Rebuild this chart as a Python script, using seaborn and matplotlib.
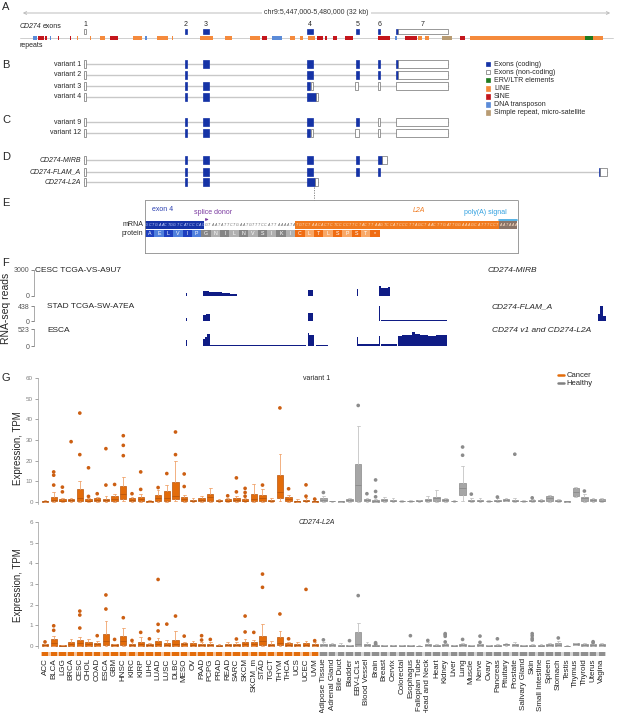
import numpy as np
import pandas as pd
import matplotlib
matplotlib.use('Agg')
import matplotlib.pyplot as plt
from matplotlib.patches import Rectangle
from matplotlib.lines import Line2D
import seaborn as sns

sns.set_theme(style='white')
plt.rcParams['font.family'] = ['Liberation Sans', 'DejaVu Sans']

# ---------------- data ----------------
# genome window chr9:5,447,000-5,480,000, positions in kb from window start
win_start, win_end = 0.0, 33.0
chr_label = 'chr9:5,447,000-5,480,000 (32 kb)'

# exons of variant 1 (start kb, end kb, coding)
v1_exons = [(3.56, 3.70, 0), (9.18, 9.29, 1), (10.16, 10.49, 1), (15.97, 16.33, 1),
            (18.70, 18.89, 1), (19.92, 20.06, 1), (20.95, 21.03, 1), (21.03, 23.82, 0)]
v2_exons = [(3.56, 3.70, 0), (9.18, 9.29, 1), (15.97, 16.33, 1),
            (18.70, 18.89, 1), (19.92, 20.06, 1), (20.95, 21.03, 1), (21.03, 23.82, 0)]
v3_exons = [(3.56, 3.70, 0), (9.18, 9.29, 1), (10.16, 10.49, 1), (15.97, 16.12, 1), (16.22, 16.33, 0),
            (18.64, 18.81, 0), (19.92, 20.06, 0), (20.95, 23.82, 0)]
v4_exons = [(3.56, 3.70, 0), (9.18, 9.29, 1), (10.16, 10.49, 1), (15.97, 16.47, 1), (16.47, 16.58, 0)]
v9_exons = [(3.56, 3.70, 0), (9.18, 9.29, 1), (10.16, 10.49, 1), (15.97, 16.33, 1),
            (18.70, 18.84, 1), (19.92, 20.06, 0), (20.95, 23.82, 0)]
v12_exons = [(3.56, 3.70, 0), (9.18, 9.29, 1), (10.16, 10.49, 1), (15.97, 16.12, 1), (16.22, 16.33, 0),
             (18.64, 18.89, 0), (19.92, 20.06, 0), (20.95, 23.82, 0)]
mirb_exons = [(3.56, 3.70, 0), (9.18, 9.29, 1), (10.16, 10.49, 1), (15.97, 16.33, 1),
              (18.70, 18.89, 1), (19.92, 20.14, 1), (20.14, 20.42, 0)]
flam_exons = [(3.56, 3.70, 0), (9.18, 9.29, 1), (10.16, 10.49, 1), (15.97, 16.33, 1),
              (18.70, 18.89, 1), (19.92, 20.06, 1), (32.22, 32.30, 1), (32.30, 32.67, 0)]
l2a_exons = [(3.56, 3.70, 0), (9.18, 9.29, 1), (10.16, 10.49, 1), (15.97, 16.41, 1), (16.41, 16.58, 0)]

exon_numbers = ['1', '2', '3', '4', '5', '6', '7']
exon_number_kb = [3.63, 9.24, 10.32, 16.15, 18.8, 19.99, 22.38]

tx_names = ['variant 1', 'variant 2', 'variant 3', 'variant 4', 'variant 9', 'variant 12',
            'CD274-MIRB', 'CD274-FLAM_A', 'CD274-L2A']
tx_exons = [v1_exons, v2_exons, v3_exons, v4_exons, v9_exons, v12_exons,
            mirb_exons, flam_exons, l2a_exons]

# repeats (start kb, end kb, class)
rep_start = [0.72, 1.00, 1.39, 1.67, 2.11, 2.78, 3.17, 3.90, 4.45, 5.01, 6.29, 6.96, 7.62, 8.46,
             10.02, 11.41, 12.80, 13.47, 14.02, 15.03, 15.58, 16.03, 16.53, 16.97, 17.42, 18.09,
             19.92, 20.87, 21.42, 22.15, 22.54, 23.48, 24.49, 25.04, 31.44, 31.89]
rep_end = [0.95, 1.34, 1.50, 1.75, 2.17, 2.84, 3.23, 3.95, 4.73, 5.45, 6.79, 7.07, 8.24, 8.51,
           10.74, 11.80, 13.36, 13.74, 14.58, 15.30, 15.75, 16.42, 16.86, 17.08, 17.64, 18.53,
           20.59, 20.98, 22.09, 22.37, 22.76, 24.04, 24.76, 31.44, 31.89, 32.44]
rep_class = ['DNA', 'SINE', 'SINE', 'DNA', 'SINE', 'SINE', 'LINE', 'LINE', 'LINE', 'SINE', 'LINE', 'DNA',
             'LINE', 'LINE', 'LINE', 'LINE', 'LINE', 'SINE', 'DNA', 'LINE', 'LINE', 'LINE', 'SINE', 'SINE',
             'SINE', 'SINE', 'SINE', 'DNA', 'SINE', 'LINE', 'LINE', 'Simple', 'SINE', 'LINE', 'ERV', 'LINE']

legend_labels = ['Exons (coding)', 'Exons (non-coding)', 'ERV/LTR elements', 'LINE', 'SINE',
                 'DNA transposon', 'Simple repeat, micro-satellite']

# panel E
exon_seq = 'GCTGAACTGGTCATCCCAG'
intron_seq = 'GTAATATTCTGAATGTTTCCATTAAAATA'
l2a_seq = 'TGTCTAACACTCTCCCCTTCTACTTAAGTCCATCCCTTAGCTAACTTGATTGGAAAGCATTTCCTAATAAA'
polya_len = 6
protein = ['A', 'E', 'L', 'V', 'I', 'P', 'G', 'N', 'I', 'L', 'N', 'V', 'S', 'I', 'K', 'I',
           'C', 'L', 'T', 'L', 'S', 'P', 'S', 'T', '*']
protein_part = ['exon'] * 6 + ['intron'] * 10 + ['l2a'] * 9

# panel F coverage blocks (start kb, end kb, reads)
cesc_start = [3.59, 9.21, 10.18, 10.52, 10.85, 11.24, 11.69, 16.00, 18.73, 19.98, 20.09, 20.48]
cesc_end = [3.64, 9.29, 10.52, 10.85, 11.24, 11.69, 12.08, 16.31, 18.81, 20.09, 20.48, 20.59]
cesc_reads = [120, 350, 580, 420, 460, 350, 230, 690, 800, 1150, 900, 1000]

stad_start = [3.59, 9.21, 10.18, 10.35, 16.00, 18.73, 19.98, 20.09, 21.15, 22.82, 32.16, 32.28, 32.45]
stad_end = [3.64, 9.29, 10.35, 10.55, 16.33, 18.78, 20.06, 21.15, 22.82, 23.76, 32.28, 32.45, 32.62]
stad_reads = [30, 80, 170, 210, 240, 400, 440, 25, 35, 30, 200, 430, 150]

esca_start = [3.59, 3.78, 9.21, 9.35, 10.18, 10.29, 10.41, 10.57, 16.00, 16.08, 16.25, 16.47, 18.73,
              18.81, 19.98, 20.09, 21.03, 21.26, 21.59, 21.81, 21.98, 22.26, 22.70, 23.15, 23.48]
esca_end = [3.64, 9.13, 9.29, 10.13, 10.29, 10.41, 10.55, 15.92, 16.08, 16.25, 16.36, 17.14, 18.81,
            19.98, 20.06, 20.98, 21.26, 21.59, 21.81, 21.98, 22.26, 22.70, 23.15, 23.48, 23.76]
esca_reads = [120, 12, 185, 15, 215, 280, 370, 25, 390, 350, 330, 20, 280,
              60, 310, 55, 300, 330, 350, 420, 360, 330, 320, 350, 330]

track_names = ['CESC TCGA-VS-A9U7', 'STAD TCGA-SW-A7EA', 'ESCA']
track_isoform = ['CD274-MIRB', 'CD274-FLAM_A', 'CD274 v1 and CD274-L2A']
track_max = [3000, 438, 523]

# panel G
cancer_types = ['ACC', 'BLCA', 'LGG', 'BRCA', 'CESC', 'CHOL', 'COAD', 'ESCA', 'GBM', 'HNSC', 'KIRC',
                'KIRP', 'LIHC', 'LUAD', 'LUSC', 'DLBC', 'MESO', 'OV', 'PAAD', 'PCPG', 'PRAD', 'READ',
                'SARC', 'SKCM', 'SKCM_m', 'STAD', 'TGCT', 'THYM', 'THCA', 'UCS', 'UCEC', 'UVM']
healthy_tissues = ['Adipose Tissue', 'Adrenal Gland', 'Bile Duct', 'Bladder', 'EBV-LCLs', 'Blood Vessel',
                   'Brain', 'Breast', 'Cervix', 'Colorectal', 'Esophagus', 'Fallopian Tube',
                   'Head and Neck', 'Heart', 'Kidney', 'Liver', 'Lung', 'Muscle', 'Nerve', 'Ovary',
                   'Pancreas', 'Pituitary', 'Prostate', 'Salivary Gland', 'Skin', 'Small Intestine',
                   'Spleen', 'Stomach', 'Testis', 'Thymus', 'Thyroid', 'Uterus', 'Vagina']

v1_q1 = [0.1, 0.3, 0.2, 0.3, 0.5, 0.3, 0.2, 0.3, 0.4, 1.1, 0.3, 0.3, 0.1, 0.6, 0.5, 1.1, 0.3, 0.3, 0.2, 0.5,
         0.2, 0.3, 0.3, 0.3, 0.4, 0.3, 0.2, 1.9, 0.4, 0.1, 0.2, 0.1,
         0.5, 0.2, 0.1, 0.3, 0.3, 0.3, 0.1, 0.3, 0.2, 0.2, 0.2, 0.3, 0.3, 0.3, 0.3, 0.2, 3.2, 0.2, 0.2,
         0.2, 0.3, 0.6, 0.3, 0.2, 0.2, 0.3, 0.5, 0.3, 0.1, 2.9, 0.5, 0.3, 0.2]
v1_med = [0.2, 1.0, 0.6, 0.7, 2.0, 0.6, 0.8, 0.7, 1.2, 3.7, 1.0, 1.1, 0.3, 1.9, 1.8, 2.7, 1.2, 0.6, 0.8, 2.4,
          0.5, 0.6, 0.9, 0.6, 1.1, 1.9, 0.6, 4.8, 1.2, 0.3, 0.5, 0.3,
          1.0, 0.3, 0.2, 0.7, 8.1, 0.7, 0.3, 0.7, 0.6, 0.4, 0.4, 0.5, 0.9, 1.6, 0.8, 0.4, 6.5, 0.6, 0.6,
          0.3, 0.6, 1.0, 0.6, 0.3, 0.5, 0.5, 1.6, 0.6, 0.2, 4.7, 1.6, 0.8, 0.6]
v1_q3 = [0.4, 2.4, 1.1, 1.3, 6.0, 1.1, 1.7, 1.4, 2.6, 7.7, 1.6, 2.1, 0.5, 3.2, 5.0, 9.4, 2.4, 1.0, 1.7, 4.0,
         0.8, 1.1, 1.9, 1.3, 3.7, 3.2, 1.0, 13.2, 2.1, 0.6, 1.0, 0.6,
         1.8, 0.4, 0.4, 1.1, 18.2, 1.1, 0.8, 1.1, 1.0, 0.6, 0.6, 0.7, 1.5, 2.4, 1.3, 0.6, 9.0, 1.0, 1.0,
         0.5, 1.0, 1.5, 1.0, 0.5, 0.8, 0.8, 2.7, 1.0, 0.3, 6.5, 2.3, 1.3, 1.1]
v1_lo = [0.0] * 9 + [0.3] + [0.0] * 5 + [0.3] + [0.0] * 11 + [0.3] + [0.0] * 4 + \
        [0.0, 0.1, 0.0, 0.0, 0.0, 0.0, 0.0, 0.0, 0.0, 0.0, 0.0, 0.1, 0.0, 0.0, 0.0, 0.0, 0.6, 0.0, 0.0,
         0.0, 0.0, 0.3, 0.0, 0.0, 0.0, 0.0, 0.0, 0.0, 0.0, 2.5, 0.0, 0.0, 0.0]
v1_hi = [0.9, 4.8, 1.9, 2.0, 10.3, 1.6, 2.4, 2.9, 3.7, 12.1, 2.4, 4.0, 0.7, 5.6, 8.1, 20.0, 3.2, 1.6, 2.6,
         6.5, 1.3, 1.6, 2.6, 2.0, 8.5, 6.0, 1.6, 23.4, 3.2, 1.3, 1.9, 1.1,
         2.9, 0.6, 0.6, 1.6, 36.8, 1.8, 1.4, 2.3, 1.6, 0.9, 0.9, 0.9, 2.6, 5.6, 1.9, 0.9, 17.4, 1.6, 1.6,
         0.7, 1.6, 1.8, 1.6, 0.7, 1.2, 1.1, 3.5, 1.4, 0.4, 7.0, 4.0, 1.9, 1.9]
v1_fliers = [[], [8.1, 12.9, 14.5], [4.8, 7.1], [29.2], [22.9, 43.1], [2.6, 16.5], [3.9], [8.1, 25.8], [8.4],
             [22.4, 27.4, 32.1], [3.9], [6.0, 14.5], [], [6.9], [13.7], [22.9, 33.9], [7.4, 13.5], [], [], [],
             [], [2.9], [4.8, 11.6], [2.7, 4.5, 6.5], [], [8.1], [], [45.6], [6.3], [], [2.7, 8.2], [1.3],
             [4.5], [], [], [], [46.8], [3.9], [2.4, 5.0, 10.6], [], [], [], [], [], [], [], [], [],
             [22.6, 26.6], [3.7], [], [], [2.3], [], [23.1], [], [1.9], [], [], [], [], [], [5.2], [], []]

l2a_q1 = [0.0, 0.02, 0.0, 0.0, 0.02, 0.02, 0.02, 0.05, 0.0, 0.05, 0.0, 0.0, 0.0, 0.02, 0.0, 0.02, 0.0,
          0.0, 0.0, 0.02, 0.0, 0.0, 0.0, 0.0, 0.0, 0.05, 0.0, 0.03, 0.0, 0.0, 0.0, 0.0,
          0.0, 0.0, 0.0, 0.0, 0.0, 0.0, 0.0, 0.0, 0.0, 0.0, 0.0, 0.0, 0.0, 0.0, 0.0, 0.0, 0.0, 0.0, 0.0,
          0.0, 0.0, 0.03, 0.02, 0.0, 0.0, 0.0, 0.0, 0.0, 0.0, 0.05, 0.0, 0.0, 0.0]
l2a_med = [0.03, 0.13, 0.02, 0.08, 0.13, 0.1, 0.08, 0.23, 0.04, 0.24, 0.04, 0.1, 0.03, 0.1, 0.07, 0.12,
           0.08, 0.06, 0.05, 0.07, 0.01, 0.04, 0.04, 0.08, 0.09, 0.26, 0.05, 0.16, 0.06, 0.04, 0.06, 0.04,
           0.03, 0.03, 0.02, 0.01, 0.1, 0.04, 0.02, 0.01, 0.01, 0.01, 0.01, 0.01, 0.05, 0.01, 0.03, 0.01,
           0.04, 0.02, 0.03, 0.01, 0.01, 0.08, 0.06, 0.01, 0.02, 0.02, 0.05, 0.07, 0.01, 0.1, 0.03, 0.03,
           0.03]
l2a_q3 = [0.08, 0.34, 0.05, 0.18, 0.29, 0.19, 0.16, 0.6, 0.08, 0.5, 0.08, 0.21, 0.08, 0.24, 0.16, 0.29,
          0.16, 0.13, 0.11, 0.11, 0.03, 0.08, 0.08, 0.19, 0.19, 0.48, 0.11, 0.42, 0.13, 0.1, 0.13, 0.08,
          0.08, 0.08, 0.06, 0.03, 0.69, 0.1, 0.05, 0.03, 0.04, 0.03, 0.03, 0.02, 0.11, 0.03, 0.08, 0.03,
          0.08, 0.04, 0.08, 0.03, 0.04, 0.11, 0.1, 0.03, 0.05, 0.04, 0.1, 0.16, 0.02, 0.13, 0.08, 0.08, 0.08]
l2a_lo = [0.0] * 61 + [0.03] + [0.0] * 3
l2a_hi = [0.1, 0.5, 0.07, 0.32, 0.42, 0.35, 0.26, 1.23, 0.12, 0.85, 0.18, 0.45, 0.16, 0.4, 0.29, 0.73,
          0.21, 0.24, 0.2, 0.2, 0.08, 0.2, 0.18, 0.32, 0.29, 1.05, 0.24, 0.74, 0.2, 0.18, 0.26, 0.2,
          0.18, 0.16, 0.14, 0.05, 1.13, 0.2, 0.08, 0.05, 0.06, 0.05, 0.06, 0.04, 0.2, 0.1, 0.15, 0.06,
          0.14, 0.06, 0.12, 0.05, 0.08, 0.13, 0.18, 0.05, 0.1, 0.12, 0.16, 0.22, 0.04, 0.15, 0.14, 0.12, 0.14]
l2a_fliers = [[0.2], [0.76, 0.98], [], [], [0.87, 1.5, 1.69], [], [0.5], [1.79, 2.47], [0.32], [1.37],
              [0.27], [0.66], [0.35], [0.73, 1.05, 3.22], [1.06], [1.45], [0.48], [], [0.29, 0.5], [0.32],
              [], [], [0.34], [0.68, 1.45], [0.66], [2.84, 3.48], [], [1.55], [0.35], [], [2.74], [0.26],
              [0.3], [], [], [0.26], [2.44], [], [0.1, 0.16], [], [], [], [0.5], [], [0.27], [],
              [0.2, 0.47, 0.55, 0.6], [], [0.32], [], [0.18, 0.48], [], [0.35], [], [], [],
              [0.29, 0.37, 0.5, 0.6], [], [], [0.39], [], [], [], [0.16, 0.21], []]

# ---------------- style ----------------
BLUE = '#1533a6'
NAVY = '#0f1c85'
ORANGE = '#e36c0a'
GRAY = '#a6a6a6'
rep_colors = {'LINE': '#f58a3c', 'SINE': '#c4161c', 'DNA': '#5b8bd8', 'ERV': '#1f7a1f', 'Simple': '#b89b72'}
legend_colors = [BLUE, 'white', rep_colors['ERV'], rep_colors['LINE'], rep_colors['SINE'],
                 rep_colors['DNA'], rep_colors['Simple']]

W, H = 617, 713
fig = plt.figure(figsize=(W / 100, H / 100), dpi=100)


def px_axes(x0, y0, x1, y1):
    return fig.add_axes([x0 / W, 1 - y1 / H, (x1 - x0) / W, (y1 - y0) / H])


def px2kb(x):
    return (x - 20) / 17.97


lay = px_axes(0, 0, W, H)
lay.set_xlim(0, W)
lay.set_ylim(H, 0)
lay.axis('off')

axg = px_axes(0, 0, W, H)
axg.set_xlim(px2kb(0), px2kb(W))
axg.set_ylim(H, 0)
axg.axis('off')

for lab, y in zip('ABCDEFG', [7, 65, 120, 157, 203, 263, 378]):
    lay.text(2, y, lab, fontsize=8, va='center', ha='left')


def draw_exons(exons, yc, h):
    for s, e, c in exons:
        axg.add_patch(Rectangle((s, yc - h / 2), e - s, h, fc=BLUE if c else 'white',
                                ec=BLUE if c else '#707070', lw=0.5, zorder=3))


# ---- panel A ----
axg.annotate('', xy=(win_end, 13), xytext=(win_start, 13),
             arrowprops=dict(arrowstyle='<->', color='#bdbdbd', lw=0.7, mutation_scale=5))
axg.text((win_start + win_end) / 2, 13, chr_label, fontsize=5, ha='center', va='center',
         color='#333333', bbox=dict(fc='white', ec='none', pad=1.5))
lay.text(20, 26, 'CD274', fontsize=5, style='italic', va='center')
lay.text(43, 26, 'exons', fontsize=5, va='center')
lay.text(20, 45.5, 'repeats', fontsize=5, va='center')
draw_exons(v1_exons, 31.5, 5)
for n, x in zip(exon_numbers, exon_number_kb):
    axg.text(x, 25, n, fontsize=5, ha='center', va='center')
axg.plot([win_start, win_end], [37.7, 37.7], color='#c8c8c8', lw=0.6, zorder=1)
for s, e, c in zip(rep_start, rep_end, rep_class):
    axg.add_patch(Rectangle((s, 35.7), e - s, 4, fc=rep_colors[c], ec='none', zorder=2))

# ---- panels B-D ----
tx_rows = [64, 75, 86, 97, 122, 133, 160, 171.7, 182.3]
for name, exons, y in zip(tx_names, tx_exons, tx_rows):
    axg.plot([exons[0][0], exons[-1][1]], [y, y], color='#c8c8c8', lw=1.0, zorder=1)
    draw_exons(exons, y, 8)
    lay.text(81, y, name, fontsize=5, ha='right', va='center',
             style='italic' if name.startswith('CD274') else 'normal')

for i, (lab, col) in enumerate(zip(legend_labels, legend_colors)):
    y = 64 + i * 8.1
    lay.add_patch(Rectangle((486, y - 2.2), 4.4, 4.4, fc=col, ec='#707070' if col == 'white' else col, lw=0.5))
    lay.text(494, y, lab, fontsize=5, va='center')

# dashed connector from CD274-L2A to panel E
lay.plot([314, 314], [187, 200], color='#777777', lw=0.6, ls=(0, (1.5, 1.5)))

# ---- panel E ----
axE = px_axes(145, 200, 518, 253)
n_nt = len(exon_seq) + len(intron_seq) + len(l2a_seq)
axE.set_xlim(0, n_nt + 0.2)
axE.set_ylim(53, 0)
axE.set_xticks([])
axE.set_yticks([])
axE.set_facecolor('none')
for sp in axE.spines.values():
    sp.set_visible(True)
    sp.set_linestyle((0, (1, 1)))
    sp.set_color('#8c8c8c')
    sp.set_linewidth(0.6)

e0, e1 = len(exon_seq), len(exon_seq) + len(intron_seq)
axE.add_patch(Rectangle((0, 21), e0, 8, fc=BLUE, ec='none'))
axE.add_patch(Rectangle((e1, 21), n_nt - e1, 8, fc='#f07a1e', ec='none'))
axE.add_patch(Rectangle((n_nt - polya_len, 21), polya_len, 8, fc='#8a7468', ec='none'))
axE.plot([n_nt - polya_len, n_nt], [19.5, 19.5], color='#3aa6e0', lw=1.2)
axE.annotate('', xy=(e0 + 2.2, 19.5), xytext=(e0, 19.5),
             arrowprops=dict(arrowstyle='-|>', color='#7a3aa0', lw=0.8, mutation_scale=3))
seq = exon_seq + intron_seq + l2a_seq
for i, ch in enumerate(seq):
    col = '#c9d5ff' if i < e0 else ('#6a6a6a' if i < e1 else '#ffe0c4')
    axE.text(i + 0.5, 25, ch, fontsize=2.6, style='italic', ha='center', va='center', color=col)
aa_colors = {'exon': ['#1d3fbf', '#4f7fdc'], 'intron': ['#858585', '#b0b0b0'],
             'l2a': ['#f06c12', '#f8a868']}
for i, (aa, part) in enumerate(zip(protein, protein_part)):
    axE.add_patch(Rectangle((3 * i, 30), 3, 6.7, fc=aa_colors[part][i % 2], ec='none'))
    axE.text(3 * i + 1.5, 33.4, aa, fontsize=3.8, ha='center', va='center', color='white')

lay.text(152, 209.3, 'exon 4', fontsize=5, color='#2a3fb0', va='center')
lay.text(194, 212.7, 'splice donor', fontsize=5, color='#7a3aa0', va='center')
lay.text(413, 210, 'L2A', fontsize=5, color='#f07a20', style='italic', va='center')
lay.text(464, 212.7, 'poly(A) signal', fontsize=5, color='#30a0e0', va='center')
lay.text(143, 225, 'mRNA', fontsize=5, ha='right', va='center')
lay.text(143, 233.3, 'protein', fontsize=5, ha='right', va='center')

# ---- panel F ----
track_boxes = [(270, 296), (306, 321), (329, 346)]
track_data = [(cesc_start, cesc_end, cesc_reads), (stad_start, stad_end, stad_reads),
              (esca_start, esca_end, esca_reads)]
for (t0, t1), (st, en, rd), nm, iso, mx in zip(track_boxes, track_data, track_names, track_isoform, track_max):
    ax = px_axes(33.6, t0, 613, t1)
    ax.set_facecolor('none')
    ax.set_xlim(px2kb(33.6), px2kb(613))
    ax.set_ylim(0, mx)
    st = np.array(st)
    ax.bar(st, np.array(rd), width=np.array(en) - st, align='edge', color=NAVY, linewidth=0)
    ax.set_yticks([0, mx])
    ax.set_yticklabels(['0', str(mx)])
    ax.set_xticks([])
    ax.tick_params(axis='y', left=True, length=2, width=0.5, pad=1, labelsize=5, colors='#555555')
    sns.despine(ax=ax, bottom=True)
    ax.spines['left'].set_color('#888888')
    ax.spines['left'].set_linewidth(0.5)
    lay.text(35 if nm.startswith('CESC') else 47, t0 + 1, nm, fontsize=6, va='center')
    lay.text(488 if nm.startswith('CESC') else 492, t0 + 1, iso, fontsize=6, style='italic', va='center')
lay.text(6, 308, 'RNA-seq reads', fontsize=7.5, rotation=90, ha='center', va='center')

# ---- panel G ----
names = cancer_types + healthy_tissues
n_c = len(cancer_types)
pos = np.arange(len(names))
is_cancer = pos < n_c
xl = ((37.7 - 45) / 8.7, (606.3 - 45) / 8.7)


def box_panel(ax, q1, med, q3, lo, hi, fliers, ymax, yticks, title, italic):
    stats = [dict(q1=a, med=b, q3=c, whislo=d, whishi=e, fliers=[]) for a, b, c, d, e in
             zip(q1, med, q3, lo, hi)]
    bp = ax.bxp(stats, positions=pos, widths=0.72, patch_artist=True, showfliers=False,
                manage_ticks=False, capwidths=0.3)
    for i in range(len(names)):
        fc, ec, wc = (ORANGE, '#b8560d', '#f0a46c') if is_cancer[i] else (GRAY, '#8a8a8a', '#c4c4c4')
        bp['boxes'][i].set(facecolor=fc, edgecolor=ec, linewidth=0.5)
        bp['medians'][i].set(color=ec, linewidth=0.6)
        for j in (2 * i, 2 * i + 1):
            bp['whiskers'][j].set(color=wc, linewidth=0.6)
            bp['caps'][j].set(color=wc, linewidth=0.6)
    rows = [(p, v, 'Cancer' if p < n_c else 'Healthy') for p, fl in zip(pos, fliers) for v in fl]
    fl_df = pd.DataFrame(rows, columns=['pos', 'value', 'group'])
    sns.scatterplot(data=fl_df, x='pos', y='value', hue='group', ax=ax, s=7, linewidth=0,
                    palette={'Cancer': '#cc5f12', 'Healthy': '#8c8c8c'}, legend=False, zorder=4)
    ax.set_xlim(*xl)
    ax.set_ylim(-ymax / 60, ymax)
    ax.set_yticks(yticks)
    ax.set_xticks([])
    ax.set_xlabel('')
    ax.set_ylabel('')
    ax.set_facecolor('none')
    ax.tick_params(axis='y', left=True, length=2, width=0.5, pad=1.5, labelsize=4.5, colors='#808080')
    sns.despine(ax=ax, bottom=True)
    ax.spines['left'].set_color('#9a9a9a')
    ax.spines['left'].set_linewidth(0.5)
    ax.text(0.49, 1.0, title, transform=ax.transAxes, fontsize=5, ha='center', va='center',
            style='italic' if italic else 'normal')


axT = px_axes(37.7, 378.3, 606.3, 503.8)
box_panel(axT, v1_q1, v1_med, v1_q3, v1_lo, v1_hi, v1_fliers, 60, range(0, 61, 10), 'variant 1', False)
axB = px_axes(37.7, 522, 606.3, 648.1)
box_panel(axB, l2a_q1, l2a_med, l2a_q3, l2a_lo, l2a_hi, l2a_fliers, 6, range(0, 7), 'CD274-L2A', True)
lay.text(18, 448, 'Expression, TPM', fontsize=7, rotation=90, ha='center', va='center')
lay.text(18, 585, 'Expression, TPM', fontsize=7, rotation=90, ha='center', va='center')

axS = px_axes(37.7, 651.5, 606.3, 655.5)
axS.set_xlim(*xl)
axS.set_ylim(0, 1)
axS.axvspan(-0.5, n_c - 0.5, color='#f6c49c', lw=0)
axS.axvspan(n_c - 0.5, len(names) - 0.5, color='#d6d6d6', lw=0)
axS.bar(pos, 1, width=0.72, color=np.where(is_cancer, ORANGE, '#8f8f8f'), linewidth=0)
axS.set_yticks([])
axS.set_xticks(pos)
axS.set_xticklabels(names, rotation=90, fontsize=5.8, color='#222222')
axS.tick_params(axis='x', length=0, pad=2)
sns.despine(ax=axS, left=True, bottom=True)

fig.legend(handles=[Line2D([0], [0], color=ORANGE, lw=1.8), Line2D([0], [0], color='#808080', lw=1.8)],
           labels=['Cancer', 'Healthy'], loc='upper left', bbox_to_anchor=(558 / W, 1 - 372 / H),
           frameon=False, fontsize=5.5, handlelength=0.8, handletextpad=0.3, labelspacing=0.1,
           borderpad=0, borderaxespad=0)

fig.savefig('out.png', dpi=100)
